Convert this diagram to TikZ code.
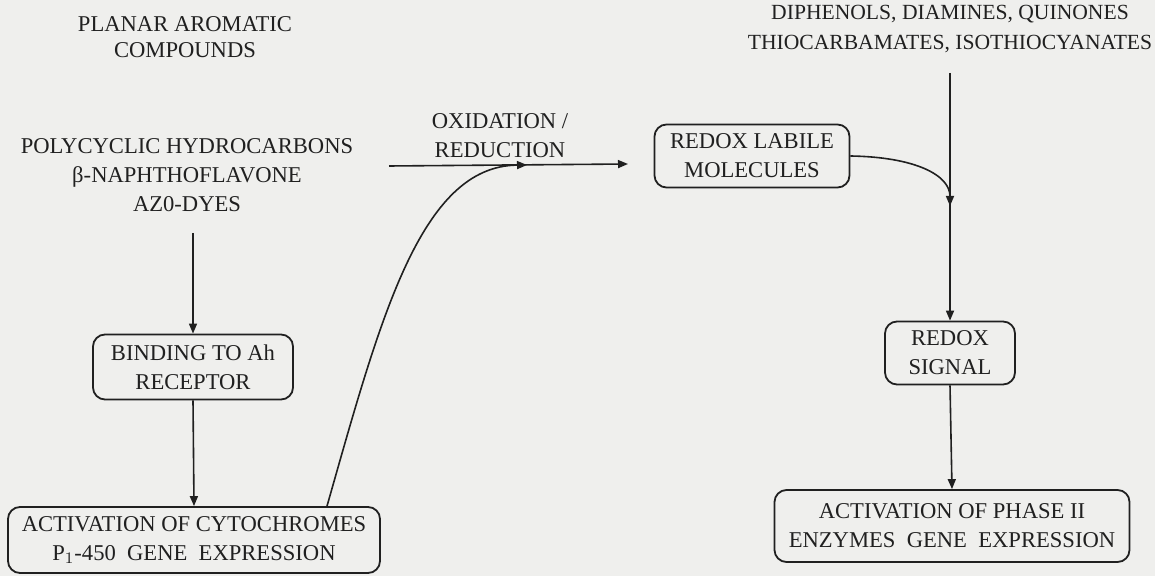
\documentclass[tikz,border=0pt]{standalone}
\usepackage{fontspec}
\setmainfont{Liberation Serif}
\usetikzlibrary{arrows.meta}
\definecolor{paper}{RGB}{239,239,237}
\definecolor{ink}{RGB}{32,32,32}
\tikzset{
	lbl/.style = {align=center, text=ink, font=\fontsize{11.3}{14.5}\selectfont, inner sep=0pt},
	stage/.style = {lbl, draw=ink, line width=0.9pt, rounded corners=6pt},
	flow/.style = {draw=ink, line width=0.8pt, -{Triangle[length=5pt,width=4pt]}}
}
\begin{document}
\begin{tikzpicture}[x=0.5pt, y=-0.5pt]
		\fill [paper] (0,0) rectangle (1155,576);
		\useasboundingbox (0,0) rectangle (1155,576);
		% left column
		\node [lbl, font=\fontsize{11.3}{13}\selectfont] (planar) at (185,37) {PLANAR AROMATIC\\COMPOUNDS};
		\node [lbl] (poly) at (187,175) {POLYCYCLIC HYDROCARBONS\\β-NAPHTHOFLAVONE\\AZ0-DYES};
		\node [stage, minimum width=100pt, minimum height=32.5pt] (bind) at (193,367) {BINDING TO Ah\\RECEPTOR};
		\node [stage, minimum width=186pt, minimum height=33pt] (cyto) at (194,540) {ACTIVATION OF CYTOCHROMES\\P$_1$-450~~GENE~~EXPRESSION};
		% right column
		\node [lbl] (oxid) at (500,136) {OXIDATION /\\REDUCTION};
		\node [stage, minimum width=97.5pt, minimum height=31.5pt] (labile) at (752,156) {REDOX LABILE\\MOLECULES};
		\node [lbl, font=\fontsize{10.8}{15}\selectfont] (diphen) at (950,29) {DIPHENOLS, DIAMINES, QUINONES\\THIOCARBAMATES, ISOTHIOCYANATES};
		\node [stage, minimum width=65pt, minimum height=31.5pt] (signal) at (950,353) {REDOX\\SIGNAL};
		\node [stage, minimum width=177.5pt, minimum height=36pt] (phase) at (952,526) {ACTIVATION OF PHASE II\\ENZYMES~~GENE~~EXPRESSION};
		\coordinate (ptop) at (193,233);
		\coordinate (dtop) at (950,73);
		\coordinate (oxs) at (389,166);
		\coordinate (oxm) at (527,165);
		\coordinate (oxe) at (628,164);
		\coordinate (join) at (950,206);
		% connectors
		\draw [flow] (ptop) -- (bind.north);
		\draw [flow] (bind.south) -- (cyto.north);
		\draw [flow] (oxs) -- (oxe);
		\draw [flow] ([xshift=66.5pt]cyto.north) .. controls (380,320) and (420,166) .. (oxm);
		\draw [flow] (labile.east) .. controls (915,157) and (950,175) .. (join);
		\draw [flow] (dtop) -- (signal.north);
		\draw [flow] (signal.south) -- (phase.north);
	\end{tikzpicture}
\end{document}
